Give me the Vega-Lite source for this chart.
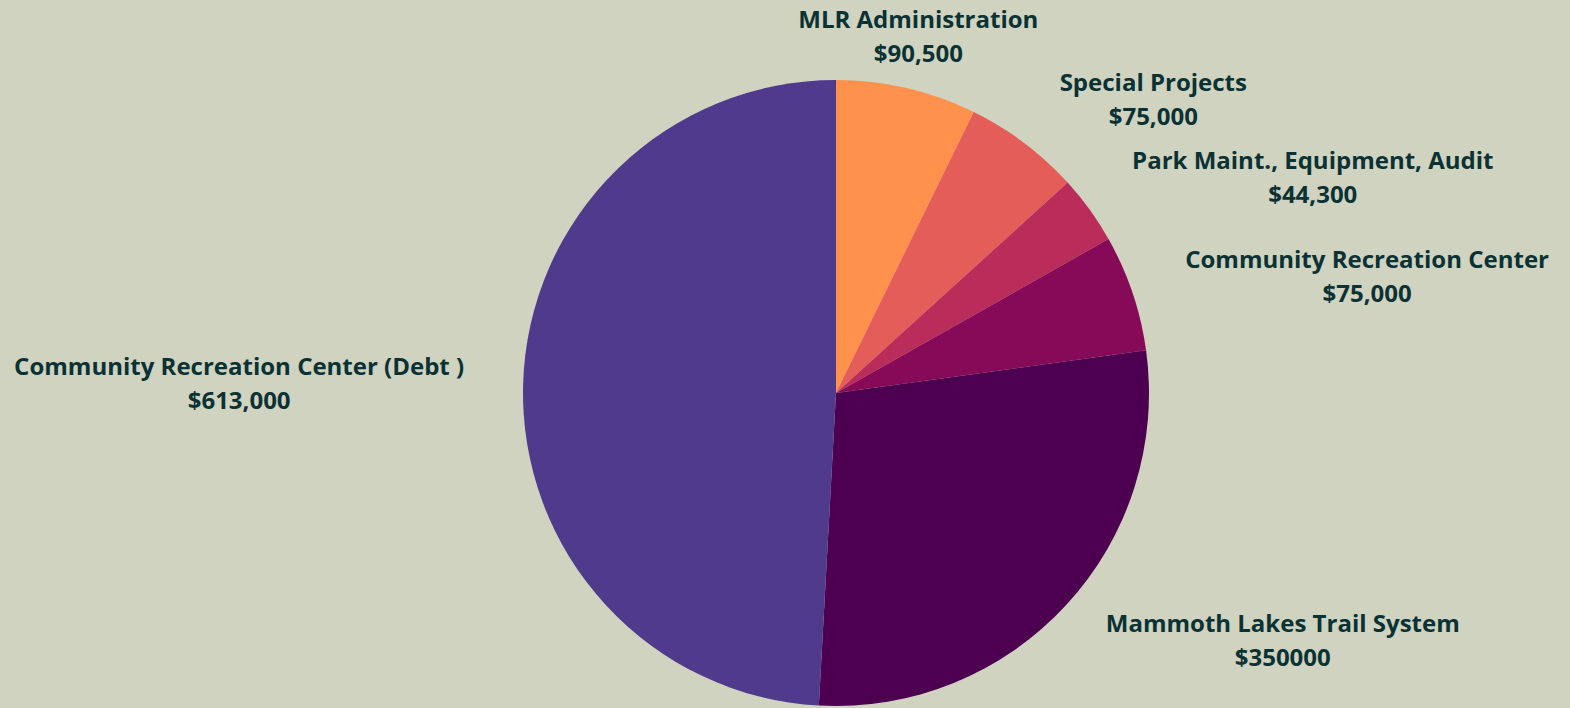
{
  "$schema": "https://vega.github.io/schema/vega-lite/v6.json",
  "autosize": "none",
  "width": 626,
  "height": 626,
  "padding": {"left": 523, "right": 421, "top": 80, "bottom": 2},
  "background": "#D0D3C0",
  "config": {"view": {"stroke": null}, "text": {"font": "Open Sans", "fontWeight": "bold", "fontSize": 24, "color": "#0A3234", "lineHeight": 34, "lineBreak": "\n", "baseline": "middle", "align": "center"}},
  "data": {"values": [
    {"seq": 1, "cat": "MLR Administration", "amount": 90500, "label": "MLR Administration\n$90,500"},
    {"seq": 2, "cat": "Special Projects", "amount": 75000, "label": "Special Projects\n$75,000"},
    {"seq": 3, "cat": "Park Maint., Equipment, Audit", "amount": 44300, "label": "Park Maint., Equipment, Audit\n$44,300"},
    {"seq": 4, "cat": "Community Recreation Center", "amount": 75000, "label": "Community Recreation Center\n$75,000"},
    {"seq": 5, "cat": "Mammoth Lakes Trail System", "amount": 350000, "label": "Mammoth Lakes Trail System\n$350000"},
    {"seq": 6, "cat": "Community Recreation Center (Debt)", "amount": 613000, "label": "Community Recreation Center  (Debt )\n$613,000"}
  ]},
  "encoding": {
    "theta": {"field": "amount", "type": "quantitative", "stack": true},
    "order": {"field": "seq", "type": "quantitative"}
  },
  "layer": [
    {
      "mark": {"type": "arc", "outerRadius": 313},
      "encoding": {
        "color": {"field": "cat", "type": "nominal", "legend": null, "sort": null,
          "scale": {"domain": ["MLR Administration", "Special Projects", "Park Maint., Equipment, Audit", "Community Recreation Center", "Mammoth Lakes Trail System", "Community Recreation Center (Debt)"],
                    "range": ["#FF914D", "#E45D58", "#BA2D5B", "#870A59", "#4D0050", "#4F3A8B"]}}
      }
    },
    {"mark": {"type": "text", "radius": 360, "dx": 1, "dy": -21},
     "encoding": {"text": {"condition": {"test": "datum.cat === 'MLR Administration'", "field": "label"}, "value": ""}}},
    {"mark": {"type": "text", "radius": 360, "dx": 101, "dy": -21},
     "encoding": {"text": {"condition": {"test": "datum.cat === 'Special Projects'", "field": "label"}, "value": ""}}},
    {"mark": {"type": "text", "radius": 360, "dx": 185, "dy": -20},
     "encoding": {"text": {"condition": {"test": "datum.cat === 'Park Maint., Equipment, Audit'", "field": "label"}, "value": ""}}},
    {"mark": {"type": "text", "radius": 360, "dx": 190, "dy": -17},
     "encoding": {"text": {"condition": {"test": "datum.cat === 'Community Recreation Center'", "field": "label"}, "value": ""}}},
    {"mark": {"type": "text", "radius": 360, "dx": 182, "dy": -12},
     "encoding": {"text": {"condition": {"test": "datum.cat === 'Mammoth Lakes Trail System'", "field": "label"}, "value": ""}}},
    {"mark": {"type": "text", "radius": 360, "dx": -237, "dy": -15},
     "encoding": {"text": {"condition": {"test": "datum.cat === 'Community Recreation Center (Debt)'", "field": "label"}, "value": ""}}}
  ]
}
